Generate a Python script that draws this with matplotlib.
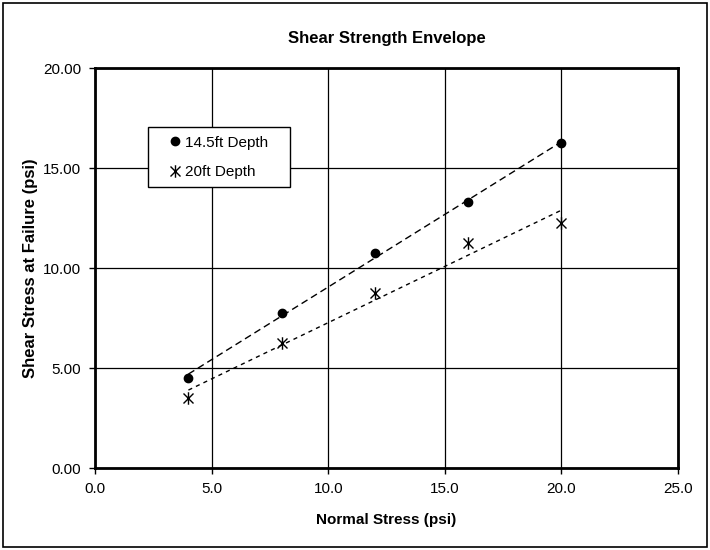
import numpy as np
import matplotlib.pyplot as plt
from matplotlib.patches import Rectangle
from matplotlib.path import Path

plt.rcParams['font.family'] = ['Liberation Sans', 'DejaVu Sans']

# 数据
normal = [4.0, 8.0, 12.0, 16.0, 20.0]
shear_145 = [4.5, 7.75, 10.75, 13.3, 16.25]
shear_20 = [3.5, 6.25, 8.75, 11.25, 12.25]
labels = ['14.5ft Depth', '20ft Depth']
xticks = [0, 5, 10, 15, 20, 25]
yticks = [0, 5, 10, 15, 20]

# Excel 星号标记: X 加竖线
star = Path([(-0.8, -0.8), (0.8, 0.8), (-0.8, 0.8), (0.8, -0.8), (0, -1), (0, 1)],
            [Path.MOVETO, Path.LINETO, Path.MOVETO, Path.LINETO, Path.MOVETO, Path.LINETO])

fig = plt.figure(figsize=(7.1, 5.5), dpi=100)
ax = fig.add_axes([0.134, 0.149, 0.821, 0.727])

# 外框
fig.patches.append(Rectangle((0.004, 0.005), 0.992, 0.99, transform=fig.transFigure,
                             fill=False, edgecolor='black', linewidth=1.2))

ax.plot(normal, shear_145, 'o', color='black', markersize=6, label=labels[0], zorder=4)
ax.plot(normal, shear_20, linestyle='none', marker=star, color='black',
        markersize=9, markeredgewidth=1.0, label=labels[1], zorder=4)

# 趋势线
x = np.array(normal)
p1 = np.polyfit(x, shear_145, 1)
p2 = np.polyfit(x, shear_20, 1)
ax.plot(x, np.polyval(p1, x), '--', color='black', linewidth=1.0, dashes=(5, 3))
ax.plot(x, np.polyval(p2, x), '--', color='black', linewidth=1.0, dashes=(3, 3))

ax.set_xlim(0, 25)
ax.set_ylim(0, 20)
ax.set_xticks(xticks)
ax.set_yticks(yticks)
ax.set_xticklabels([f'{v:.1f}' for v in xticks], fontsize=11)
ax.set_yticklabels([f'{v:.2f}' for v in yticks], fontsize=11)
ax.tick_params(direction='out', length=4, width=1, pad=6)
ax.grid(True, color='black', linewidth=0.9)
ax.set_axisbelow(True)
for s in ax.spines.values():
    s.set_linewidth(2)

ax.set_xlabel('Normal Stress (psi)', fontsize=11, fontweight='bold', labelpad=12)
ax.set_ylabel('Shear Stress at Failure (psi)', fontsize=12, fontweight='bold', labelpad=4)
ax.set_title('Shear Strength Envelope', fontsize=12, fontweight='bold', pad=18)

# 图例框单独画
ax.add_patch(Rectangle((0.091, 0.7025), 0.2435, 0.15, transform=ax.transAxes,
                       facecolor='white', edgecolor='black', linewidth=1.0, zorder=5))
leg = ax.legend(loc='upper left', bbox_to_anchor=(0.1115, 0.85), fontsize=11,
                frameon=False, borderaxespad=0, handletextpad=0.1, handlelength=1.0,
                borderpad=0.5, labelspacing=1.0)
leg.set_zorder(6)

fig.savefig('out.png', dpi=100)
